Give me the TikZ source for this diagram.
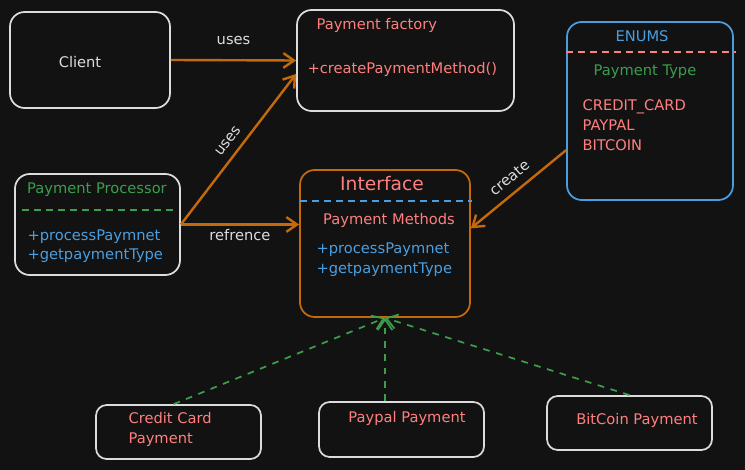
\documentclass[tikz,border=0pt]{standalone}
\usepackage{fontspec}
\setmainfont{DejaVu Sans}
\usetikzlibrary{arrows.meta,fit}

\definecolor{bg}{HTML}{121212}
\definecolor{chalk}{HTML}{DCDCDC}
\definecolor{salmon}{HTML}{FF7F7F}
\definecolor{leaf}{HTML}{3A9E4C}
\definecolor{sky}{HTML}{4A9EE0}
\definecolor{rust}{HTML}{C46A0A}

\begin{document}
\begin{tikzpicture}[x=0.75pt, y=-0.75pt, >={Straight Barb[length=8pt,width=11pt]},
    box/.style={draw=chalk, line width=1.3pt, rounded corners=11pt, inner sep=0pt},
    smallbox/.style={box, rounded corners=8pt},
    txt/.style={inner sep=1pt, font=\fontsize{11}{14}\selectfont},
    lbl/.style={txt, text=chalk},
    sepline/.style={line width=1.3pt, dash pattern=on 5pt off 4pt},
    flow/.style={->, draw=rust, line width=1.8pt},
    impl/.style={->, draw=leaf, line width=1.3pt, dash pattern=on 5pt off 5pt}]
            \fill[bg] (0, 0) rectangle (745, 470);

            \node[box, fit={(10, 12) (170, 108)}] (client) {};
            \node[lbl] (clientname) at (80, 62) {Client};

            \node[box, fit={(297, 10) (514, 111)}] (factory) {};
            \node[txt, text=salmon, anchor=west] (factoryname) at (315, 25) {Payment factory};
            \node[txt, text=salmon, anchor=west] (factoryop) at (306, 69) {+createPaymentMethod()};

            \node[box, draw=sky, fit={(567, 22) (733, 200)}] (enums) {};
            \node[txt, text=sky] (enumsname) at (642, 36) {ENUMS};
            \draw[sepline, salmon] (566, 52) -- (736, 52);
            \node[txt, text=leaf] (enumstype) at (645, 72) {Payment Type};
            \node[txt, text=salmon, anchor=north west, align=left, font=\fontsize{11}{15}\selectfont] (enumsvals) at (581, 98) {CREDIT\_CARD\\PAYPAL\\BITCOIN};

            \node[box, fit={(15, 174) (180, 275)}] (proc) {};
            \node[txt, text=leaf] (procname) at (97, 190) {Payment Processor};
            \draw[sepline, leaf] (22, 210) -- (177, 210);
            \node[txt, text=sky, anchor=north west, align=left, font=\fontsize{11}{14.5}\selectfont] (procops) at (26, 228) {+processPaymnet\\+getpaymentType};

            \node[box, draw=rust, fit={(300, 170) (470, 317)}] (iface) {};
            \node[txt, text=salmon, font=\fontsize{14}{16}\selectfont] (ifacename) at (382, 184) {Interface};
            \draw[sepline, sky] (300, 201) -- (472, 201);
            \node[txt, text=salmon] (ifacekind) at (389, 220) {Payment Methods};
            \node[txt, text=sky, anchor=north west, align=left, font=\fontsize{11}{15}\selectfont] (ifaceops) at (315, 241) {+processPaymnet\\+getpaymentType};

            \node[smallbox, fit={(96, 405) (261, 459)}] (credit) {};
            \node[txt, text=salmon, anchor=north west, align=left, font=\fontsize{11}{15}\selectfont] (creditname) at (127, 411) {Credit Card\\Payment};

            \node[smallbox, fit={(319, 402) (484, 457)}] (paypal) {};
            \node[txt, text=salmon] (paypalname) at (407, 418) {Paypal Payment};

            \node[smallbox, fit={(547, 396) (712, 450)}] (bitcoin) {};
            \node[txt, text=salmon] (bitcoinname) at (637, 420) {BitCoin Payment};

            \draw[flow] (client.east) -- (factory.west) node[lbl, midway, above=10pt] (usesa) {uses};
            \draw[flow] (proc.east) -- (factory.187) node[lbl, midway, sloped, above=5pt] (usesb) {uses};
            \draw[flow] (proc.east) -- (proc.east -| iface.west) node[lbl, midway, below=2pt] (refers) {refrence};
            \draw[flow] (enums.205) -- (iface.10) node[lbl, midway, sloped, above=5pt] (creates) {create};

            \draw[impl] (credit.100) -- (iface.south);
            \draw[impl] (paypal.north -| iface.south) -- (iface.south);
            \draw[impl] (bitcoin.north) -- (iface.south);
        \end{tikzpicture}
\end{document}
